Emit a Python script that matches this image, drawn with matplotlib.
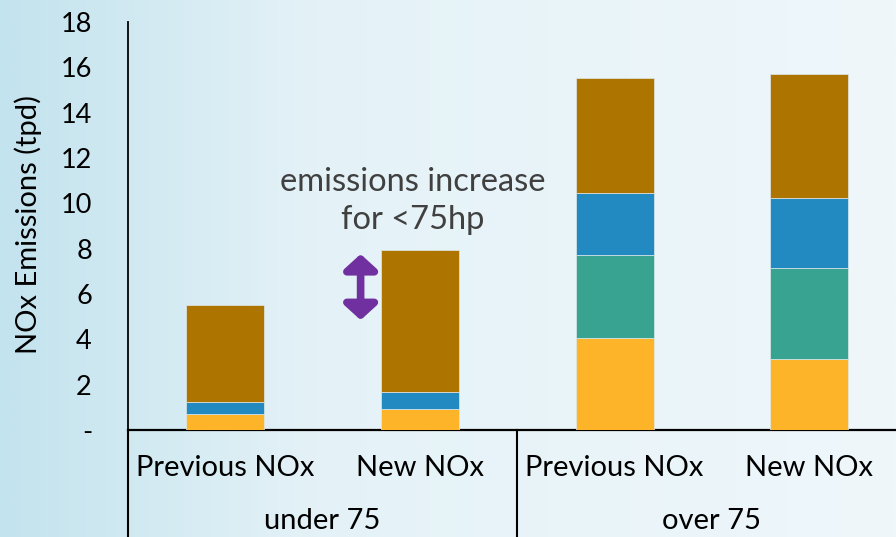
import numpy as np
import matplotlib.pyplot as plt
import matplotlib.transforms as mtransforms
import matplotlib.patheffects as pe
from matplotlib.patches import FancyArrowPatch
from matplotlib.colors import LinearSegmentedColormap

plt.rcParams['font.family'] = ['Lato', 'DejaVu Sans']

# Donnees : emissions NOx (tpd) par categorie de puissance
bar_labels = ['Previous NOx', 'New NOx', 'Previous NOx', 'New NOx']
group_labels = ['under 75', 'over 75']
yellow_vals = [0.69, 0.91, 4.07, 3.13]
teal_vals = [0.00, 0.00, 3.65, 4.03]
blue_vals = [0.53, 0.75, 2.72, 3.07]
brown_vals = [4.30, 6.28, 5.10, 5.47]
ytick_vals = [0, 2, 4, 6, 8, 10, 12, 14, 16, 18]
ytick_labels = ['-', '2', '4', '6', '8', '10', '12', '14', '16', '18']

series = [
    (yellow_vals, '#fdb428'),
    (teal_vals, '#38a391'),
    (blue_vals, '#228ac0'),
    (brown_vals, '#ae7400'),
]

fig = plt.figure(figsize=(8.96, 5.37), dpi=100)

# fond degrade bleu clair
bg = fig.add_axes([0, 0, 1, 1], zorder=-10)
cmap = LinearSegmentedColormap.from_list(
    'fond', [(0.0, '#c3e3ee'), (0.35, '#e4f2f7'), (1.0, '#eff7fb')])
xx = np.linspace(0, 1, 400)
grad = np.tile(xx, (50, 1))
bg.imshow(grad, aspect='auto', cmap=cmap, extent=[0, 1, 0, 1])
bg.set_axis_off()

ax = fig.add_axes([0.1429, 0.1993, 0.8571, 0.7597])
ax.set_facecolor('none')

x = np.arange(len(bar_labels))
bottom = np.zeros(len(bar_labels))
for vals, color in series:
    vals = np.array(vals)
    ax.bar(x, vals, width=0.40, bottom=bottom, color=color,
           edgecolor='#dfe9ea', linewidth=0.5, zorder=3)
    bottom += vals

ax.set_xlim(-0.5, 3.446)
ax.set_ylim(0, 18)
ax.set_yticks(ytick_vals)
ax.set_yticklabels(ytick_labels)
ax.tick_params(axis='y', length=0, pad=26, labelsize=19.5, colors='black')
ax.set_xticks([])

for side in ['top', 'right']:
    ax.spines[side].set_visible(False)
ax.spines['bottom'].set_linewidth(1.6)
ax.spines['left'].set_linewidth(1.3)

# lignes de separation sous l'axe
trans = mtransforms.blended_transform_factory(ax.transData, ax.transAxes)
for xs in [-0.5, 1.5]:
    ax.plot([xs, xs], [0, -0.4], color='black', lw=1.5,
            transform=trans, clip_on=False)

for xi, lab in zip(x, bar_labels):
    ax.text(xi, -0.092, lab, transform=trans, ha='center', va='center',
            fontsize=21)
for gi, lab in enumerate(group_labels):
    ax.text(2 * gi + 0.5, -0.223, lab, transform=trans, ha='center',
            va='center', fontsize=21)

fig.text(28 / 896, 1 - 225 / 537, 'NOx Emissions (tpd)', rotation=90,
         ha='center', va='center', fontsize=21)

# annotation sur la hausse des emissions
ax.text(0.965, 10.1, 'emissions increase\nfor <75hp', ha='center',
        va='center', fontsize=23.5, color='#404040', linespacing=1.3)
arrow = FancyArrowPatch((0.695, 4.85), (0.695, 7.76),
                        arrowstyle='<|-|>,head_width=0.55,head_length=0.5',
                        mutation_scale=18, lw=5.5, color='#7030a0',
                        shrinkA=0, shrinkB=0, zorder=4,
                        path_effects=[pe.SimplePatchShadow(offset=(1.5, -2), alpha=0.3),
                                      pe.Normal()])
ax.add_patch(arrow)

fig.savefig('out.png', dpi=100)
